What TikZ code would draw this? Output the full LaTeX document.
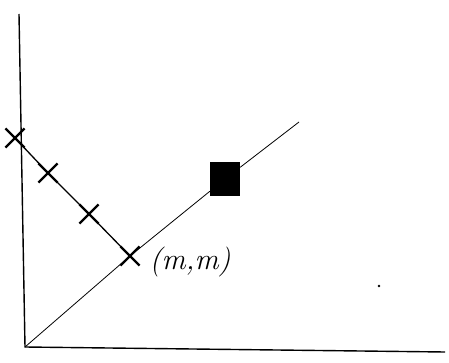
\documentclass[tikz,border=0pt]{standalone}
\usepackage{fontspec}
\usepackage{tikz}
\usetikzlibrary{shapes.misc}

\begin{document}
\begin{tikzpicture}[
    x=1pt, y=-1pt,
    xmark/.style={cross out, draw, line width=2.2pt, minimum size=17pt, inner sep=0pt},
    best/.style={draw, fill=black, minimum width=29pt, minimum height=33pt,
                 line width=1.3pt, inner sep=0pt},
    dot/.style={circle, fill, inner sep=0pt, minimum size=2.6pt},
    axis/.style={line width=1.4pt},
    trail/.style={line width=1.3pt},
    diag/.style={line width=0.8pt}
]
\useasboundingbox (0,0) rectangle (449,363);
\coordinate (origin) at (25,347);
\coordinate (ytop)   at (19,14);
\coordinate (xend)   at (445,352);
\coordinate (dend)   at (299,122);

\node[xmark] (x1) at (15,138) {};
\node[xmark] (x2) at (48,173) {};
\node[xmark] (x3) at (89,214) {};
\node[xmark] (x4) at (130,256) {};
\node[best]  (opt) at (225,179) {};
\node[font=\fontsize{30}{36}\selectfont\itshape, anchor=west] (mm) at (146,262) {(m,m)};
\node[dot] (speck) at (379,286) {};

\draw[axis]  (ytop) -- (origin) -- (xend);
\draw[diag]  (origin) -- (x4.center) -- (opt);
\draw[diag]  (opt) -- (dend);
\draw[trail] (x1.center) -- (x2.center) -- (x3.center) -- (x4.center);
\end{tikzpicture}
\end{document}
